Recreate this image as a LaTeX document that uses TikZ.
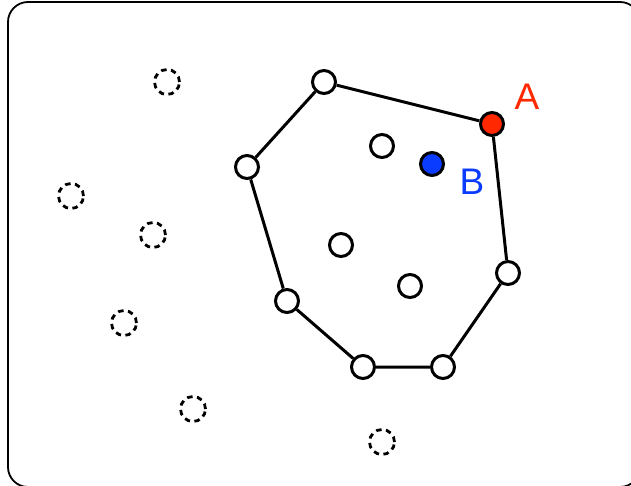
\documentclass[tikz,border=0pt]{standalone}
\usepackage{fontspec}
\setmainfont{Liberation Sans}
\definecolor{ptred}{RGB}{255,40,0}
\definecolor{ptblue}{RGB}{10,60,255}
\begin{document}
\begin{tikzpicture}[x=1pt,y=-1pt,
  pt/.style={circle,draw=black,line width=3pt,fill=white,minimum size=23pt,inner sep=0pt},
  ghost/.style={circle,draw=black,line width=2.8pt,dash pattern=on 5.5pt off 4.5pt,minimum size=25pt,inner sep=0pt},
  edge/.style={line width=3pt},
  lab/.style={font=\fontsize{37}{37}\selectfont,inner sep=0pt}]
\useasboundingbox (0,0) rectangle (631,486);
% frame
\draw[line width=1.8pt,rounded corners=20pt] (8,2) rectangle (640,487);
% hull vertices
\node[pt] (p1) at (324,82) {};
\node[pt,fill=ptred] (a) at (492,124) {};
\node[pt] (p3) at (508,273) {};
\node[pt] (p4) at (443,367) {};
\node[pt] (p5) at (363,367) {};
\node[pt] (p6) at (287,301) {};
\node[pt] (p7) at (247,167) {};
% hull edges
\draw[edge] (p1) -- (a) -- (p3) -- (p4) -- (p5) -- (p6) -- (p7) -- (p1);
% interior points
\node[pt] (q1) at (382,146) {};
\node[pt,fill=ptblue] (b) at (432,164) {};
\node[pt] (q3) at (341,245) {};
\node[pt] (q4) at (410,286) {};
% outside points
\node[ghost] (g1) at (167,82) {};
\node[ghost] (g2) at (71,196) {};
\node[ghost] (g3) at (153,235) {};
\node[ghost] (g4) at (124,323) {};
\node[ghost] (g5) at (193,409) {};
\node[ghost] (g6) at (382,442) {};
% labels
\node[lab,text=ptred] (la) at (527,97) {A};
\node[lab,text=ptblue] (lb) at (472,182) {B};
\end{tikzpicture}
\end{document}
